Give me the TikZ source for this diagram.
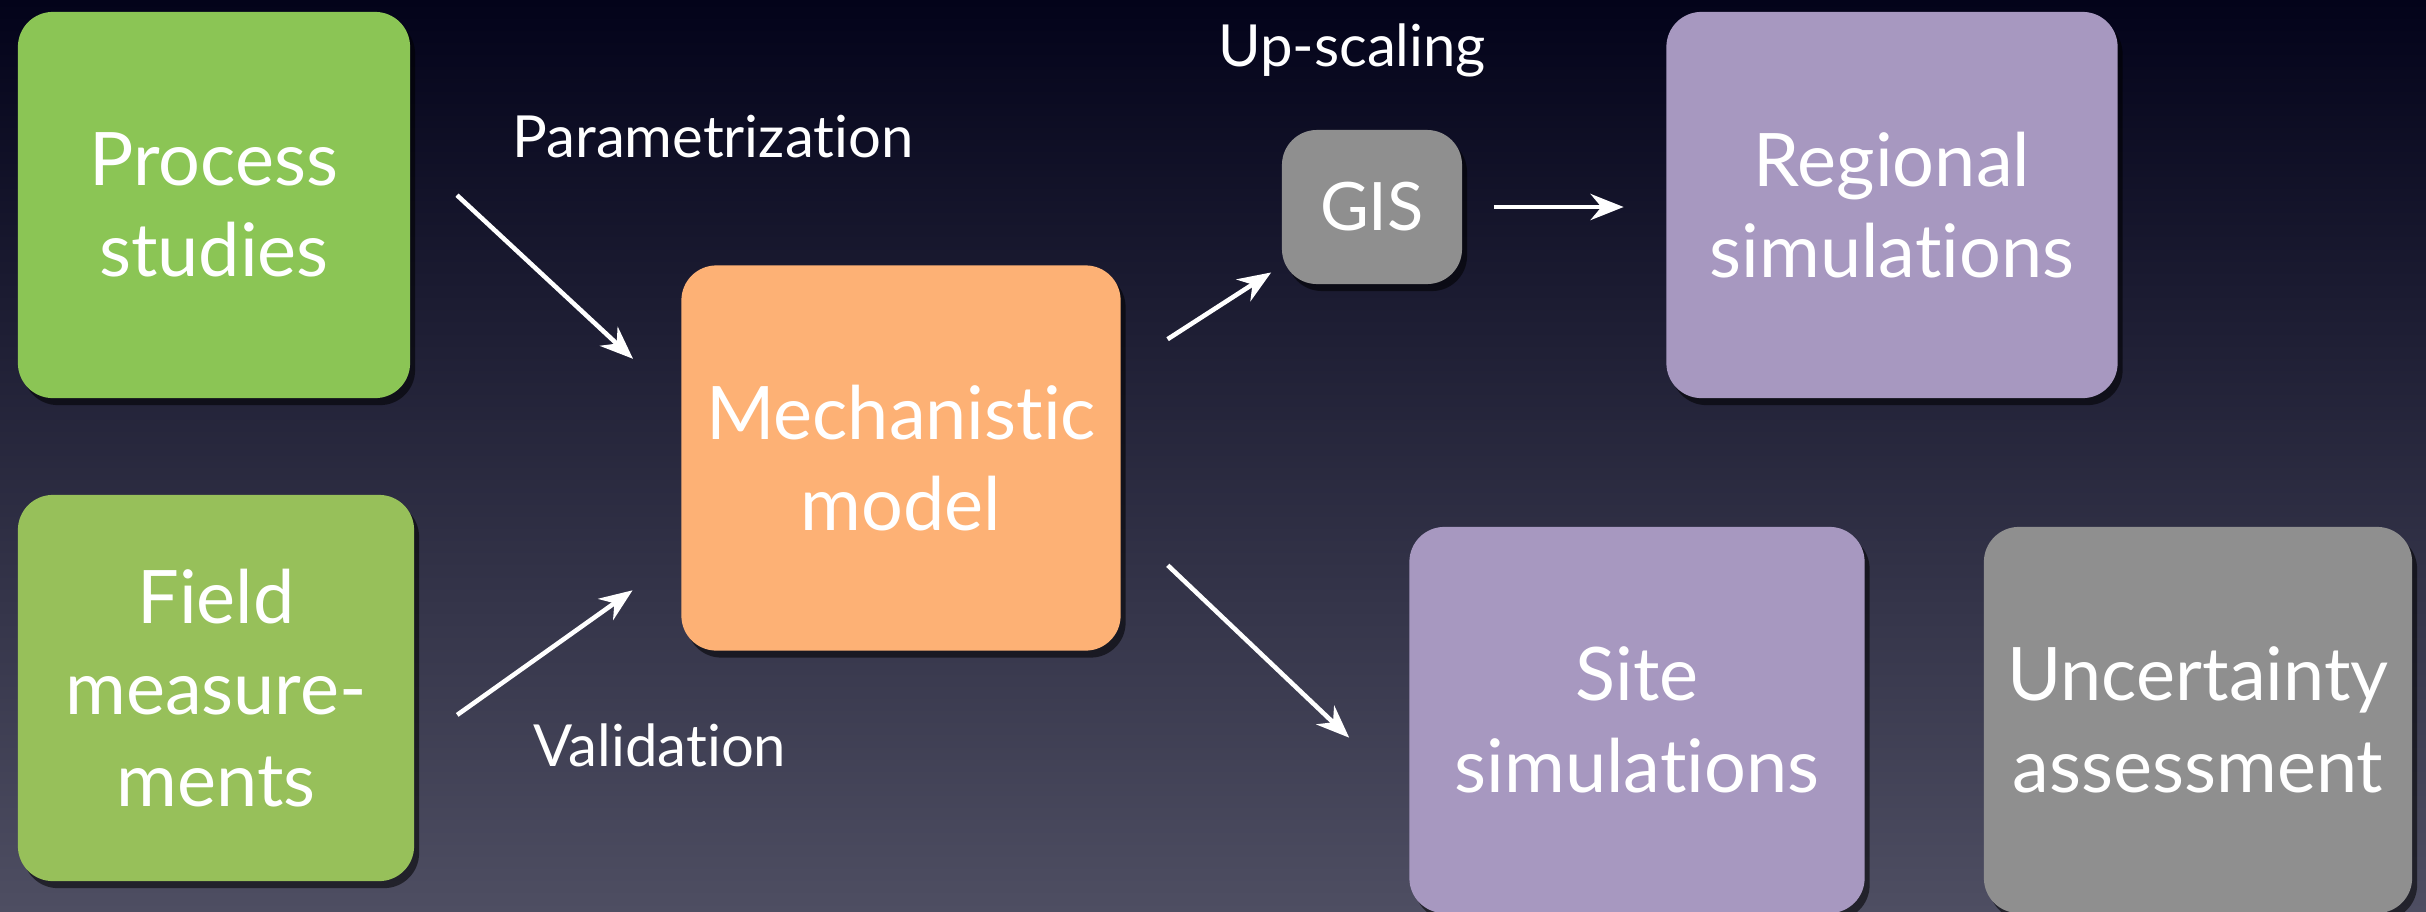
\documentclass[tikz,border=0pt]{standalone}
\usepackage{fontspec}
\setmainfont{Lato}[Ligatures={NoCommon}, RawFeature={-liga;-dlig}]
\usepackage{xcolor}
\usetikzlibrary{arrows.meta, shadows, calc}

\definecolor{bgtop}{HTML}{03031A}
\definecolor{bgmid}{HTML}{20203A}
\definecolor{bgbot}{HTML}{4E4E62}
\definecolor{procgreen}{HTML}{8BC555}
\definecolor{fieldgreen}{HTML}{97C05A}
\definecolor{mechorange}{HTML}{FDB175}
\definecolor{simpurple}{HTML}{A798C0}
\definecolor{boxgray}{HTML}{8F8F8F}

\begin{document}
\begin{tikzpicture}[
        x=0.01cm, y=-0.01cm,
        box/.style={rectangle, rounded corners=0.35cm, inner sep=0pt, align=center,
            text=white, font=\fontsize{21}{26}\selectfont,
            drop shadow={shadow xshift=0.05cm, shadow yshift=-0.07cm, opacity=0.55, fill=black}},
        lbl/.style={text=white, anchor=base, font=\fontsize{16.5}{20}\selectfont},
        flow/.style={-{Stealth[length=0.33cm, width=0.26cm]}, white, line width=1.3pt}
    ]
        \useasboundingbox (0,0) rectangle (2426,911);
        \clip (0,0) rectangle (2426,911);
        \shade[top color=bgtop, middle color=bgmid, bottom color=bgbot] (0,0) rectangle (2426,911);

        \node[box, fill=procgreen,  minimum width=3.92cm, minimum height=3.86cm] (proc)  at (214,205)  {Process\\studies};
        \node[box, fill=fieldgreen, minimum width=3.96cm, minimum height=3.86cm] (field) at (216,688)  {Field\\measure-\\ments};
        \node[box, fill=mechorange, minimum width=4.39cm, minimum height=3.85cm] (mech)  at (901,458)  {Mechanistic\\model};
        \node[box, fill=boxgray,    minimum width=1.80cm, minimum height=1.54cm, font=\fontsize{19}{23}\selectfont] (gis) at (1372,207) {GIS};
        \node[box, fill=simpurple,  minimum width=4.51cm, minimum height=3.86cm] (reg)   at (1892,205) {Regional\\simulations};
        \node[box, fill=simpurple,  minimum width=4.55cm, minimum height=3.86cm] (site)  at (1637,720) {Site\\simulations};
        \node[box, fill=boxgray,    minimum width=4.28cm, minimum height=3.86cm] (unc)   at (2198,720) {Uncertainty\\assessment};

        \draw[flow, shorten <=0.63cm, shorten >=0.65cm] (proc.15)   -- (mech.166);
        \draw[flow, shorten <=0.52cm, shorten >=0.59cm] (field.-16) -- (mech.204);
        \draw[flow, shorten <=0.55cm, shorten >=0.12cm] (mech.22.7) -- (gis.213.7);
        \draw[flow, shorten <=0.31cm, shorten >=0.42cm] (gis.east)  -- (gis.east -| reg.west);
        \draw[flow, shorten <=0.64cm, shorten >=0.82cm] (mech.-16.9) -- (site.198.1);

        \node[lbl] (param) at (713,157)  {Parametrization};
        \node[lbl] (upsc)  at (1352,66)  {Up-scaling};
        \node[lbl] (valid) at (660,766)  {Validation};
    \end{tikzpicture}
\end{document}
